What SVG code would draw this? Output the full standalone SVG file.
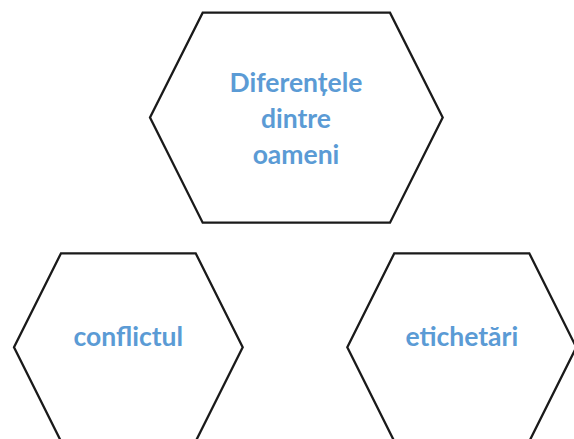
<svg xmlns="http://www.w3.org/2000/svg" width="574" height="439" viewBox="0 0 574 439">
<style>
.hex{fill:#fff;stroke:#1a1a1a;stroke-width:2.3;stroke-linejoin:miter}
.lbl{font-family:Lato,"Open Sans","Liberation Sans",sans-serif;font-weight:bold;font-size:26.5px;fill:#5b9bd5;text-anchor:middle}
</style>
<rect width="574" height="439" fill="#fff"/>
<g id="connectors"></g>
<g id="node-top">
<polygon class="hex" points="150,117.5 202.7,12.7 390,12.7 442.7,117.5 390,222.7 202.7,222.7"/>
<text class="lbl" x="296" y="92">Diferențele</text>
<text class="lbl" x="296" y="128">dintre</text>
<text class="lbl" x="296" y="164">oameni</text>
</g>
<g id="node-left">
<polygon class="hex" points="14,347.3 61,253.3 195.7,253.3 242.7,347.3 195.7,441.3 61,441.3"/>
<text class="lbl" x="128.3" y="346">conflictul</text>
</g>
<g id="node-right">
<polygon class="hex" points="347.3,347.3 394.3,253.3 529.3,253.3 576.3,347.3 529.3,441.3 394.3,441.3"/>
<text class="lbl" x="461.8" y="346">etichetări</text>
</g>
</svg>
